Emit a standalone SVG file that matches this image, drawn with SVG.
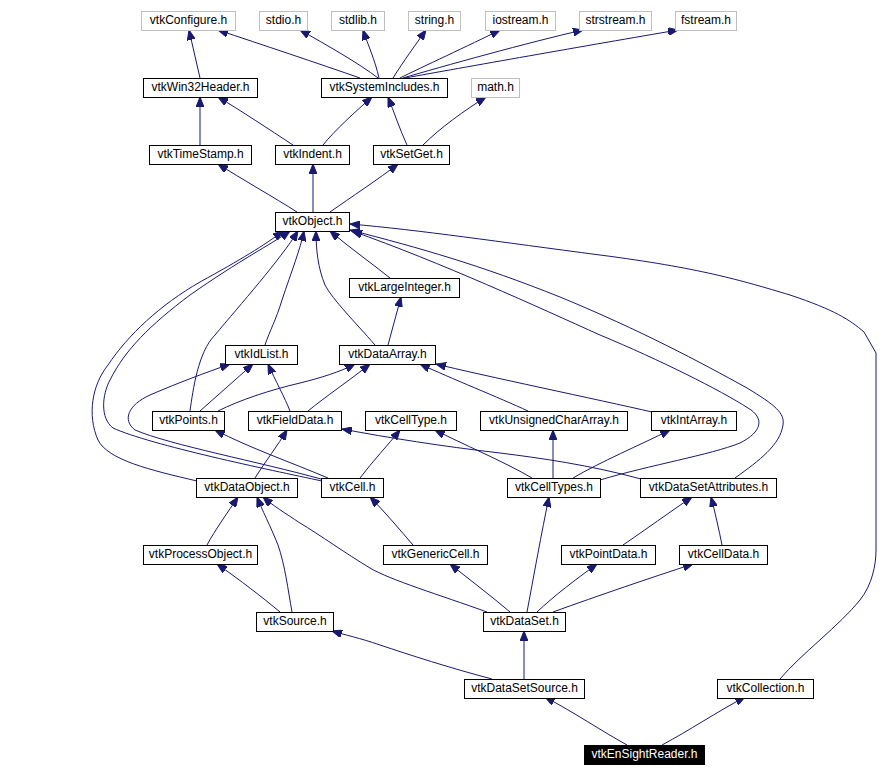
<svg xmlns="http://www.w3.org/2000/svg" width="890" height="776" viewBox="0 0 890 776">
<style>
.n rect{fill:#fff;stroke:#000;stroke-width:1}
.g rect{fill:#fff;stroke:#bfbfbf;stroke-width:1}
.f rect{fill:#000;stroke:#000;stroke-width:1}
text{font-family:"Liberation Sans",Arial,sans-serif;font-size:12px;text-anchor:middle;fill:#000}
.f text{fill:#fff}
#edges path{fill:none;stroke:#191970;stroke-width:1;marker-end:url(#a)}
</style>
<defs>
<marker id="a" markerWidth="10" markerHeight="8" refX="10" refY="4" orient="auto" markerUnits="userSpaceOnUse"><path d="M0,0 L10,4 L0,8 z" fill="#191970" stroke="#191970"/></marker>
</defs>
<rect width="890" height="776" fill="#fff"/>
<g id="edges">
<path d="M200,78 L189,30"/>
<path d="M360,78 C320,64 260,44 218,30"/>
<path d="M378,78 C360,64 325,44 300,30"/>
<path d="M379,78 C375,60 368,45 363,30"/>
<path d="M393,78 C403,62 416,44 426,30"/>
<path d="M400,78 C420,68 470,45 500,30"/>
<path d="M403,78 C440,67 530,42 583,30"/>
<path d="M405,78 C460,68 590,45 678,30"/>
<path d="M200,145 L200,97"/>
<path d="M293,145 C270,130 240,110 218,97"/>
<path d="M323,145 C335,130 355,112 372,97"/>
<path d="M407,145 C400,130 394,112 388,97"/>
<path d="M423,145 C440,128 465,110 486,97"/>
<path d="M297,212 C275,198 240,178 218,164"/>
<path d="M313,212 L313,164"/>
<path d="M330,212 C350,198 380,178 398,164"/>
<path d="M390,278 C370,262 350,248 330,231"/>
<path d="M375,345 C355,322 333,300 325,285 C318,268 316,250 316,231"/>
<path d="M265,345 C270,330 276,320 282,300 C292,270 300,250 304,231"/>
<path d="M190,411 C193,390 198,352 215,335 C240,305 280,260 298,231"/>
<path d="M197,481 C150,470 108,460 98,440 C87,415 92,385 108,365 C128,335 160,305 200,282 C240,260 265,245 283,231"/>
<path d="M322,481 C270,470 150,445 113,428 C100,418 102,395 110,380 C125,350 150,325 190,295 C240,260 270,245 290,231"/>
<path d="M321,479 C260,462 170,445 135,430 C122,420 128,405 150,395 C180,382 205,373 230,364"/>
<path d="M600,480 C650,465 710,455 740,443 C762,432 765,418 748,408 C720,390 660,360 600,335 C540,308 440,262 352,231"/>
<path d="M735,478 C760,460 780,445 783,425 C785,413 775,405 747,388 C700,362 640,330 560,297 C480,265 420,248 350,230"/>
<path d="M780,679 C800,655 840,625 860,600 C872,585 876,565 876,550 L876,353 L864,332 C850,320 835,310 790,295 C740,280 700,268 600,255 C500,242 420,230 350,224"/>
<path d="M388,345 L401,297"/>
<path d="M200,411 L253,364"/>
<path d="M218,411 C240,400 270,390 300,383 C320,378 340,372 355,364"/>
<path d="M290,411 C285,398 275,380 268,364"/>
<path d="M308,411 C325,397 350,380 370,364"/>
<path d="M528,411 C500,398 450,378 420,364"/>
<path d="M652,412 C600,400 480,375 436,364"/>
<path d="M328,478 C290,462 250,448 215,430"/>
<path d="M255,478 C265,462 278,445 287,430"/>
<path d="M360,478 C372,462 388,445 400,430"/>
<path d="M532,478 C505,462 460,443 435,430"/>
<path d="M553,478 L553,430"/>
<path d="M573,478 C600,462 640,445 670,430"/>
<path d="M641,479 C590,465 540,458 500,453 C440,446 390,438 342,429"/>
<path d="M207,545 C215,530 228,512 238,497"/>
<path d="M292,612 C288,590 285,565 278,545 C270,525 262,510 257,497"/>
<path d="M487,612 C440,595 390,580 370,568 C345,553 320,535 300,523 C285,513 272,505 263,497"/>
<path d="M413,545 C400,530 385,512 370,497"/>
<path d="M510,612 C490,595 470,580 450,564"/>
<path d="M527,612 C533,580 542,530 549,497"/>
<path d="M537,612 C555,595 575,580 597,564"/>
<path d="M553,612 C600,595 650,578 693,564"/>
<path d="M623,545 C645,530 670,512 692,497"/>
<path d="M722,545 C719,530 715,512 711,497"/>
<path d="M280,612 C262,597 240,580 217,564"/>
<path d="M492,679 C450,668 410,655 380,645 C360,638 345,635 332,631"/>
<path d="M524,679 L524,631"/>
<path d="M627,745 C600,730 575,713 545,697"/>
<path d="M662,745 C690,730 715,713 745,697"/>
</g>
<g id="vtkConfigure" class="g"><rect x="141.5" y="11.5" width="94" height="19"/><text x="188.5" y="23.5">vtkConfigure.h</text></g>
<g id="stdio" class="g"><rect x="259.5" y="11.5" width="48" height="19"/><text x="283.5" y="23.5">stdio.h</text></g>
<g id="stdlib" class="g"><rect x="331.5" y="11.5" width="53" height="19"/><text x="358" y="23.5">stdlib.h</text></g>
<g id="string" class="g"><rect x="408.5" y="11.5" width="52" height="19"/><text x="434.5" y="23.5">string.h</text></g>
<g id="iostream" class="g"><rect x="485.5" y="11.5" width="70" height="19"/><text x="520.5" y="23.5">iostream.h</text></g>
<g id="strstream" class="g"><rect x="579.5" y="11.5" width="72" height="19"/><text x="615.5" y="23.5">strstream.h</text></g>
<g id="fstream" class="g"><rect x="675.5" y="11.5" width="61" height="19"/><text x="706" y="23.5">fstream.h</text></g>
<g id="vtkWin32Header" class="n"><rect x="143.5" y="78.5" width="114" height="19"/><text x="200.5" y="90.5">vtkWin32Header.h</text></g>
<g id="vtkSystemIncludes" class="n"><rect x="321.5" y="78.5" width="126" height="19"/><text x="384.5" y="90.5">vtkSystemIncludes.h</text></g>
<g id="math" class="g"><rect x="471.5" y="78.5" width="48" height="19"/><text x="495.5" y="90.5">math.h</text></g>
<g id="vtkTimeStamp" class="n"><rect x="149.5" y="145.5" width="102" height="19"/><text x="200.5" y="157.5">vtkTimeStamp.h</text></g>
<g id="vtkIndent" class="n"><rect x="275.5" y="145.5" width="74" height="19"/><text x="312.5" y="157.5">vtkIndent.h</text></g>
<g id="vtkSetGet" class="n"><rect x="373.5" y="145.5" width="76" height="19"/><text x="411.5" y="157.5">vtkSetGet.h</text></g>
<g id="vtkObject" class="n"><rect x="275.5" y="212.5" width="74" height="19"/><text x="312.5" y="224.5">vtkObject.h</text></g>
<g id="vtkLargeInteger" class="n"><rect x="349.5" y="278.5" width="110" height="19"/><text x="404.5" y="290.5">vtkLargeInteger.h</text></g>
<g id="vtkIdList" class="n"><rect x="225.5" y="345.5" width="72" height="19"/><text x="261.5" y="357.5">vtkIdList.h</text></g>
<g id="vtkDataArray" class="n"><rect x="339.5" y="345.5" width="96" height="19"/><text x="387.5" y="357.5">vtkDataArray.h</text></g>
<g id="vtkPoints" class="n"><rect x="152.5" y="411.5" width="72" height="19"/><text x="188.5" y="423.5">vtkPoints.h</text></g>
<g id="vtkFieldData" class="n"><rect x="248.5" y="411.5" width="93" height="19"/><text x="295" y="423.5">vtkFieldData.h</text></g>
<g id="vtkCellType" class="n"><rect x="365.5" y="411.5" width="91" height="19"/><text x="411" y="423.5">vtkCellType.h</text></g>
<g id="vtkUnsignedCharArray" class="n"><rect x="480.5" y="411.5" width="147" height="19"/><text x="554" y="423.5">vtkUnsignedCharArray.h</text></g>
<g id="vtkIntArray" class="n"><rect x="651.5" y="411.5" width="85" height="19"/><text x="694" y="423.5">vtkIntArray.h</text></g>
<g id="vtkDataObject" class="n"><rect x="196.5" y="478.5" width="101" height="19"/><text x="247" y="490.5">vtkDataObject.h</text></g>
<g id="vtkCell" class="n"><rect x="321.5" y="478.5" width="62" height="19"/><text x="352.5" y="490.5">vtkCell.h</text></g>
<g id="vtkCellTypes" class="n"><rect x="507.5" y="478.5" width="93" height="19"/><text x="554" y="490.5">vtkCellTypes.h</text></g>
<g id="vtkDataSetAttributes" class="n"><rect x="640.5" y="478.5" width="136" height="19"/><text x="708.5" y="490.5">vtkDataSetAttributes.h</text></g>
<g id="vtkProcessObject" class="n"><rect x="143.5" y="545.5" width="114" height="19"/><text x="200.5" y="557.5">vtkProcessObject.h</text></g>
<g id="vtkGenericCell" class="n"><rect x="383.5" y="545.5" width="104" height="19"/><text x="435.5" y="557.5">vtkGenericCell.h</text></g>
<g id="vtkPointData" class="n"><rect x="561.5" y="545.5" width="94" height="19"/><text x="608.5" y="557.5">vtkPointData.h</text></g>
<g id="vtkCellData" class="n"><rect x="679.5" y="545.5" width="88" height="19"/><text x="723.5" y="557.5">vtkCellData.h</text></g>
<g id="vtkSource" class="n"><rect x="256.5" y="612.5" width="77" height="19"/><text x="295" y="624.5">vtkSource.h</text></g>
<g id="vtkDataSet" class="n"><rect x="483.5" y="612.5" width="82" height="19"/><text x="524.5" y="624.5">vtkDataSet.h</text></g>
<g id="vtkDataSetSource" class="n"><rect x="464.5" y="679.5" width="120" height="19"/><text x="524.5" y="691.5">vtkDataSetSource.h</text></g>
<g id="vtkCollection" class="n"><rect x="717.5" y="679.5" width="96" height="19"/><text x="765.5" y="691.5">vtkCollection.h</text></g>
<g id="vtkEnSightReader" class="f"><rect x="584.5" y="745.5" width="120" height="19"/><text x="644.5" y="757.5">vtkEnSightReader.h</text></g>
</svg>
